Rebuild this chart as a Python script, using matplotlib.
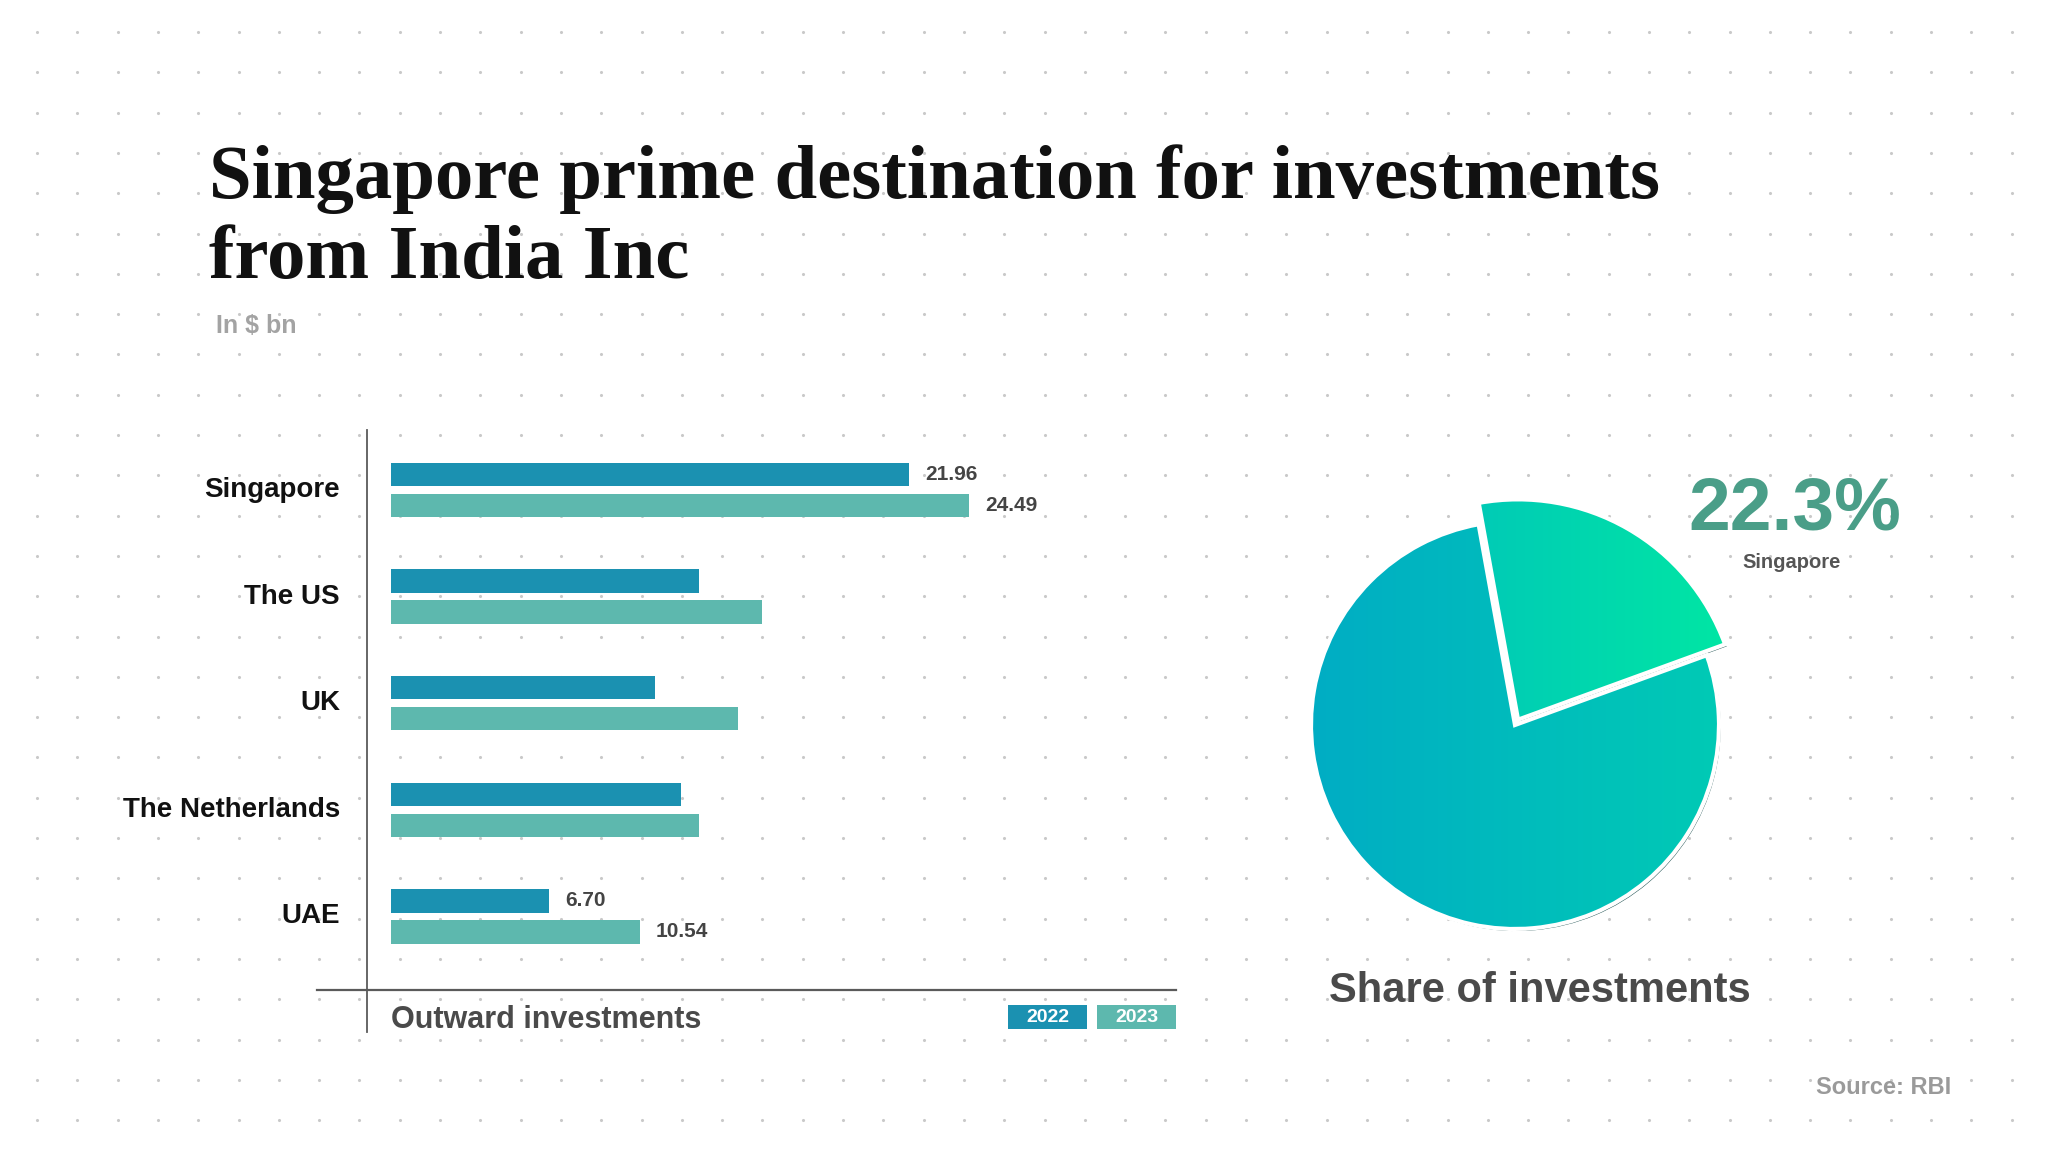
import numpy as np
import matplotlib
matplotlib.use("Agg")
import matplotlib.pyplot as plt
from matplotlib.patches import Rectangle, Wedge
from matplotlib.colors import LinearSegmentedColormap

plt.rcParams["font.family"] = ["Liberation Sans", "DejaVu Sans"]

W, H = 2048, 1152
DPI = 100

countries = ["Singapore", "The US", "UK", "The Netherlands", "UAE"]
inv_2022 = [21.96, 13.05, 11.2, 12.3, 6.70]
inv_2023 = [24.49, 15.7, 14.7, 13.05, 10.54]
labelled = ["Singapore", "UAE"]
years = ["2022", "2023"]
share_labels = ["Singapore", "Others"]
share_values = [22.3, 77.7]

c22 = "#1b91b1"
c23 = "#5db8ae"
dark = "#4a4a4a"

fig = plt.figure(figsize=(W / DPI, H / DPI), dpi=DPI)
fig.patch.set_facecolor("white")


def px_axes(x, y, w, h, **kw):
    # axes placed by pixel box (top-left origin)
    return fig.add_axes([x / W, 1 - (y + h) / H, w / W, h / H], **kw)


# background layer in pixel coords
bg = px_axes(0, 0, W, H, zorder=0)
bg.set_xlim(0, W)
bg.set_ylim(H, 0)
bg.axis("off")
gx, gy = np.meshgrid(np.arange(37, W - 20, 40.3), np.arange(32, H, 40.3))
bg.scatter(gx.ravel(), gy.ravel(), s=5, color="#c9c9c9", linewidths=0)

bg.text(209, 198, "Singapore prime destination for investments",
        family="Liberation Serif", weight="bold", size=55.3, va="baseline", color="#111111")
bg.text(209, 278, "from India Inc",
        family="Liberation Serif", weight="bold", size=55.3, va="baseline", color="#111111")
bg.text(216, 326, "In $ bn", va="center", size=18, weight="bold", color="#a3a3a3")

# bar chart
k = 23.6  # px per $bn
ax = px_axes(317, 430, 859, 560, zorder=2)
ax.patch.set_alpha(0)
ax.set_xlim(-(391 - 317) / k, (1176 - 391) / k)
ax.set_ylim(4.69, -0.563)
y = np.arange(len(countries))
ax.barh(y - 0.145, inv_2022, height=0.22, color=c22)
ax.barh(y + 0.145, inv_2023, height=0.22, color=c23)
for s in ["top", "right", "left"]:
    ax.spines[s].set_visible(False)
ax.spines["bottom"].set_color("#5a5a5a")
ax.spines["bottom"].set_linewidth(1.6)
ax.set_xticks([])
ax.set_yticks([])

for i, name in enumerate(countries):
    ax.text(-(391 - 340) / k, i, name, ha="right", va="center",
            size=20, weight="bold", color="#111111")
    if name in labelled:
        for v, off in [(inv_2022[i], -0.145), (inv_2023[i], 0.145)]:
            ax.text(v + 16 / k, i + off, f"{v:.2f}", va="center",
                    size=15, weight="bold", color="#444444")

bg.plot([367, 367], [430, 1032], color="#5a5a5a", lw=1.3)
bg.text(391, 1020, "Outward investments", va="center", size=22,
        weight="bold", color=dark)

for j, (yr, col) in enumerate(zip(years, [c22, c23])):
    x0 = 1008 + j * 89
    bg.add_patch(Rectangle((x0, 1005), 79, 24, color=col, lw=0))
    bg.text(x0 + 39.5, 1017.5, yr, ha="center", va="center",
            color="white", weight="bold", size=14)

# pie chart
R = 204
cx, cy = 1515, 725
lim = 1.3
pa = px_axes(cx - lim * R, cy - lim * R, 2 * lim * R, 2 * lim * R, zorder=2)
pa.patch.set_alpha(0)
wedges, _ = pa.pie(share_values, startangle=20, explode=[0.03, 0], radius=1,
                   wedgeprops=dict(edgecolor="white", linewidth=3))
wedges[0].set_radius(1.08)

grads = [("#00cbb6", "#00e6a4"), ("#00adc4", "#00cab5")]
for w, (g0, g1) in zip(wedges, grads):
    sh = Wedge((w.center[0] + 0.008, w.center[1] - 0.01), w.r, w.theta1, w.theta2,
               color="#2a5a5a", zorder=-1, lw=0)
    pa.add_patch(sh)
    ext = w.get_path().get_extents()
    cmap = LinearSegmentedColormap.from_list("g", [g0, g1])
    im = pa.imshow(np.linspace(0, 1, 256)[None, :], cmap=cmap,
                   extent=(ext.x0, ext.x1, -1.2, 1.2), aspect="auto", zorder=0)
    im.set_clip_path(w)
    w.set_facecolor("none")

pa.set_xlim(-lim, lim)
pa.set_ylim(-lim, lim)
pa.set_aspect("equal")
pa.axis("off")

bg.text(1795, 510, f"{share_values[0]}%", ha="center", va="center",
        size=54, weight="bold", color="#4a9e88")
bg.text(1792, 563, share_labels[0], ha="center", va="center",
        size=14.5, weight="bold", color="#555555")
bg.text(1540, 991, "Share of investments", ha="center", va="center",
        size=30, weight="bold", color=dark)
bg.text(1951, 1087, "Source: RBI", ha="right", va="center",
        size=17, weight="bold", color="#9a9a9a")

fig.savefig("out.png", dpi=DPI)
